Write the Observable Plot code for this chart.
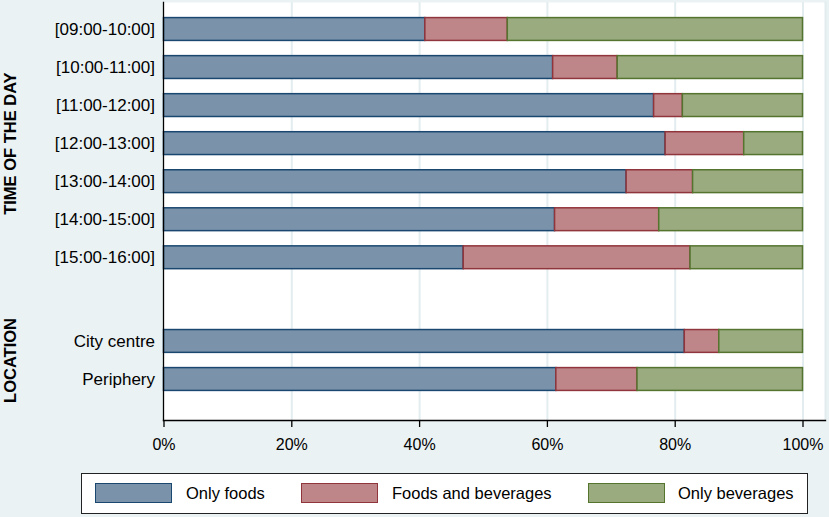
<!DOCTYPE html>
<html>
<head>
<meta charset="utf-8">
<script src="https://cdn.jsdelivr.net/npm/d3@7"></script>
<script src="https://cdn.jsdelivr.net/npm/@observablehq/plot@0.6"></script>
<style>
  html, body { margin: 0; padding: 0; background: #eaf2f3; }
  #wrap { position: relative; width: 829px; height: 517px; font-family: "Liberation Sans", Arial, sans-serif; }
  #legend { position: absolute; left: 81px; top: 473px; width: 725px; height: 39px; background: #fff; border: 1.5px solid #222; }
  .sw { position: absolute; top: 9px; width: 75px; height: 18px; border: 1.5px solid; }
  .lt { position: absolute; top: 9px; font-size: 16.5px; line-height: 21px; color: #000; white-space: nowrap; }
</style>
</head>
<body>
<div id="wrap"></div>
<script>
// ---- data ----
const categories = ["[09:00-10:00]", "[10:00-11:00]", "[11:00-12:00]", "[12:00-13:00]", "[13:00-14:00]", "[14:00-15:00]", "[15:00-16:00]", "City centre", "Periphery"];
const groupNames = ["TIME OF THE DAY", "LOCATION"];
const groupSizes = [7, 2];
const seriesNames = ["Only foods", "Foods and beverages", "Only beverages"];
const onlyFoods     = [40.9, 60.9, 76.7, 78.5, 72.4, 61.2, 46.9, 81.5, 61.4];
const foodsAndBev   = [12.9, 10.1,  4.5, 12.3, 10.4, 16.3, 35.5,  5.4, 12.7];
const onlyBeverages = [46.2, 29.0, 18.8,  9.2, 17.2, 22.5, 17.6, 13.1, 25.9];
const tickValues = [0, 20, 40, 60, 80, 100];
const fills   = ["#7a93ab", "#bf8689", "#9bab80"];
const strokes = ["#1a476f", "#90353b", "#55752f"];

// ---- derived table ----
const groupGap = 1.2;
const rows = categories.map((c, i) => ({cat: c, pos: i < groupSizes[0] ? i : i + groupGap}));
const seriesValues = [onlyFoods, foodsAndBev, onlyBeverages];
const rects = [];
rows.forEach((r, i) => {
  let acc = 0;
  seriesValues.forEach((vals, s) => {
    rects.push({cat: r.cat, series: seriesNames[s], si: s, x1: acc, x2: acc + vals[i], y1: r.pos - 0.3, y2: r.pos + 0.3});
    acc += vals[i];
  });
});
const groups = groupNames.map((g, k) => {
  const members = rows.filter((r, i) => (k === 0 ? i < groupSizes[0] : i >= groupSizes[0]));
  return {name: g, mid: d3.mean(members, d => d.pos)};
});

const chart = Plot.plot({
  width: 829,
  height: 470,
  marginLeft: 163,
  marginRight: 4,
  marginTop: 2,
  marginBottom: 50,
  style: {background: "transparent", fontFamily: "'Liberation Sans', Arial, sans-serif", color: "#000", overflow: "visible"},
  x: {domain: [0, 100], range: [163.5, 802.5]},
  y: {domain: [0, 9.2], range: [29, 379], axis: null},
  color: {domain: seriesNames, range: fills},
  marks: [
    Plot.frame({fill: "white", stroke: null}),
    Plot.ruleX(tickValues.slice(1), {stroke: "#e3edf0", strokeWidth: 2}),
    Plot.frame({anchor: "right", stroke: "#e3edf0", strokeWidth: 2}),
    Plot.rect(rects, {x1: "x1", x2: "x2", y1: "y1", y2: "y2", fill: d => fills[d.si], stroke: d => strokes[d.si], strokeWidth: 1.5}),
    Plot.frame({anchor: "left", stroke: "#000", strokeWidth: 1.3}),
    Plot.frame({anchor: "bottom", stroke: "#000", strokeWidth: 1.3}),
    Plot.axisX({ticks: tickValues, tickFormat: d => d + "%", tickSize: 7, tickPadding: 11, fontSize: 16, label: null, stroke: "#000", strokeWidth: 1.3}),
    Plot.text(rows, {x: 0, y: "pos", text: "cat", textAnchor: "end", dx: -9, fontSize: 17, fill: "#000"}),
    Plot.text(groups, {y: "mid", text: "name", frameAnchor: "left", textAnchor: "middle", dx: -153, rotate: -90, fontWeight: "bold", fontSize: 16.5, fill: "#000"})
  ]
});

const wrap = document.getElementById("wrap");
wrap.appendChild(chart);

// ---- legend ----
const legend = document.createElement("div");
legend.id = "legend";
const swLeft = [13, 219, 506];
const txLeft = [104, 310, 596];
seriesNames.forEach((name, s) => {
  const sw = document.createElement("div");
  sw.className = "sw";
  sw.style.left = swLeft[s] + "px";
  sw.style.background = fills[s];
  sw.style.borderColor = strokes[s];
  legend.appendChild(sw);
  const t = document.createElement("div");
  t.className = "lt";
  t.style.left = txLeft[s] + "px";
  t.textContent = name;
  legend.appendChild(t);
});
wrap.appendChild(legend);
</script>
</body>
</html>
